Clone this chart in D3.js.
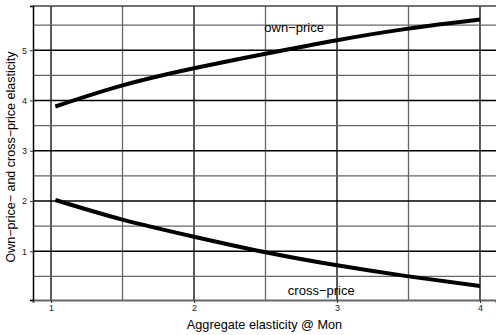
<!DOCTYPE html>
<html>
<head>
<meta charset="utf-8">
<script src="https://cdn.jsdelivr.net/npm/d3@7"></script>
<style>
  body { margin: 0; background: #fff; }
  svg { font-family: "Liberation Sans", Arial, sans-serif; display: block; }
</style>
</head>
<body>
<div id="chart"></div>
<script>
// Data
const aggregate = [1.03, 1.5, 2, 2.5, 3, 3.5, 4];
const ownPrice = [3.88, 4.3, 4.64, 4.93, 5.2, 5.43, 5.61];
const crossPrice = [2.02, 1.63, 1.29, 0.98, 0.72, 0.5, 0.31];
const xTicks = [1, 2, 3, 4];
const yTicks = [1, 2, 3, 4, 5];
const xGrid = [1, 1.5, 2, 2.5, 3, 3.5, 4];
const yGrid = [0.5, 1, 1.5, 2, 2.5, 3, 3.5, 4, 4.5, 5, 5.5];

const width = 496, height = 335;
const margin = { top: 6, right: 0, bottom: 35, left: 33 };

const svg = d3.select("#chart").append("svg")
    .attr("width", width)
    .attr("height", height);

const x = d3.scaleLinear().domain([0.874, 4.112]).range([margin.left, width - margin.right]);
const y = d3.scaleLinear().domain([0.03, 5.88]).range([height - margin.bottom, margin.top]);

const isInt = (v) => Math.abs(v - Math.round(v)) < 1e-9;

// grid
svg.append("g").selectAll("line")
    .data(xGrid)
    .enter().append("line")
    .attr("x1", (d) => x(d)).attr("x2", (d) => x(d))
    .attr("y1", y.range()[1]).attr("y2", y.range()[0])
    .attr("stroke", (d) => isInt(d) ? "#000" : "#666")
    .attr("stroke-width", 1.3);

svg.append("g").selectAll("line")
    .data(yGrid)
    .enter().append("line")
    .attr("x1", x.range()[0]).attr("x2", x.range()[1])
    .attr("y1", (d) => y(d)).attr("y2", (d) => y(d))
    .attr("stroke", (d) => isInt(d) ? "#000" : "#666")
    .attr("stroke-width", 1.3);

// top border
svg.append("line")
    .attr("x1", x.range()[0]).attr("x2", x.range()[1])
    .attr("y1", margin.top).attr("y2", margin.top)
    .attr("stroke", "#444").attr("stroke-width", 1.3);

// axes
const xAxis = svg.append("g")
    .attr("transform", `translate(0,${height - margin.bottom})`)
    .call(d3.axisBottom(x).tickValues(xTicks).tickSize(3).tickPadding(2).tickFormat(d3.format("d")));
xAxis.select(".domain").attr("stroke", "#666").attr("stroke-width", 2);
xAxis.selectAll(".tick line").attr("stroke", "#333");
xAxis.selectAll("text").attr("font-size", 9).attr("fill", "#222");

const yAxis = svg.append("g")
    .attr("transform", `translate(${margin.left},0)`)
    .call(d3.axisLeft(y).tickValues(yTicks).tickSize(3).tickPadding(3).tickFormat(d3.format("d")));
yAxis.select(".domain").attr("stroke", "#000").attr("stroke-width", 1.5);
yAxis.selectAll(".tick line").attr("stroke", "#333");
yAxis.selectAll("text").attr("font-size", 9).attr("fill", "#222");

// curves
const line = d3.line().curve(d3.curveNatural);
[ownPrice, crossPrice].forEach((vals) => {
    svg.append("path")
        .datum(aggregate.map((a, i) => [x(a), y(vals[i])]))
        .attr("d", line)
        .attr("fill", "none")
        .attr("stroke", "#000")
        .attr("stroke-width", 4);
});

// curve labels
svg.append("text")
    .attr("x", x(2.7)).attr("y", y(5.37))
    .attr("text-anchor", "middle")
    .attr("font-size", 13)
    .text("own\u2212price");

svg.append("text")
    .attr("x", x(2.89)).attr("y", y(0.12))
    .attr("text-anchor", "middle")
    .attr("font-size", 13)
    .text("cross\u2212price");

// axis titles
svg.append("text")
    .attr("x", (margin.left + width - margin.right) / 2).attr("y", 329)
    .attr("text-anchor", "middle")
    .attr("font-size", 12.7)
    .text("Aggregate elasticity @ Mon");

svg.append("text")
    .attr("transform", `translate(15,157) rotate(-90)`)
    .attr("text-anchor", "middle")
    .attr("font-size", 12.5)
    .text("Own\u2212price\u2212 and cross\u2212price elasticity");
</script>
</body>
</html>
